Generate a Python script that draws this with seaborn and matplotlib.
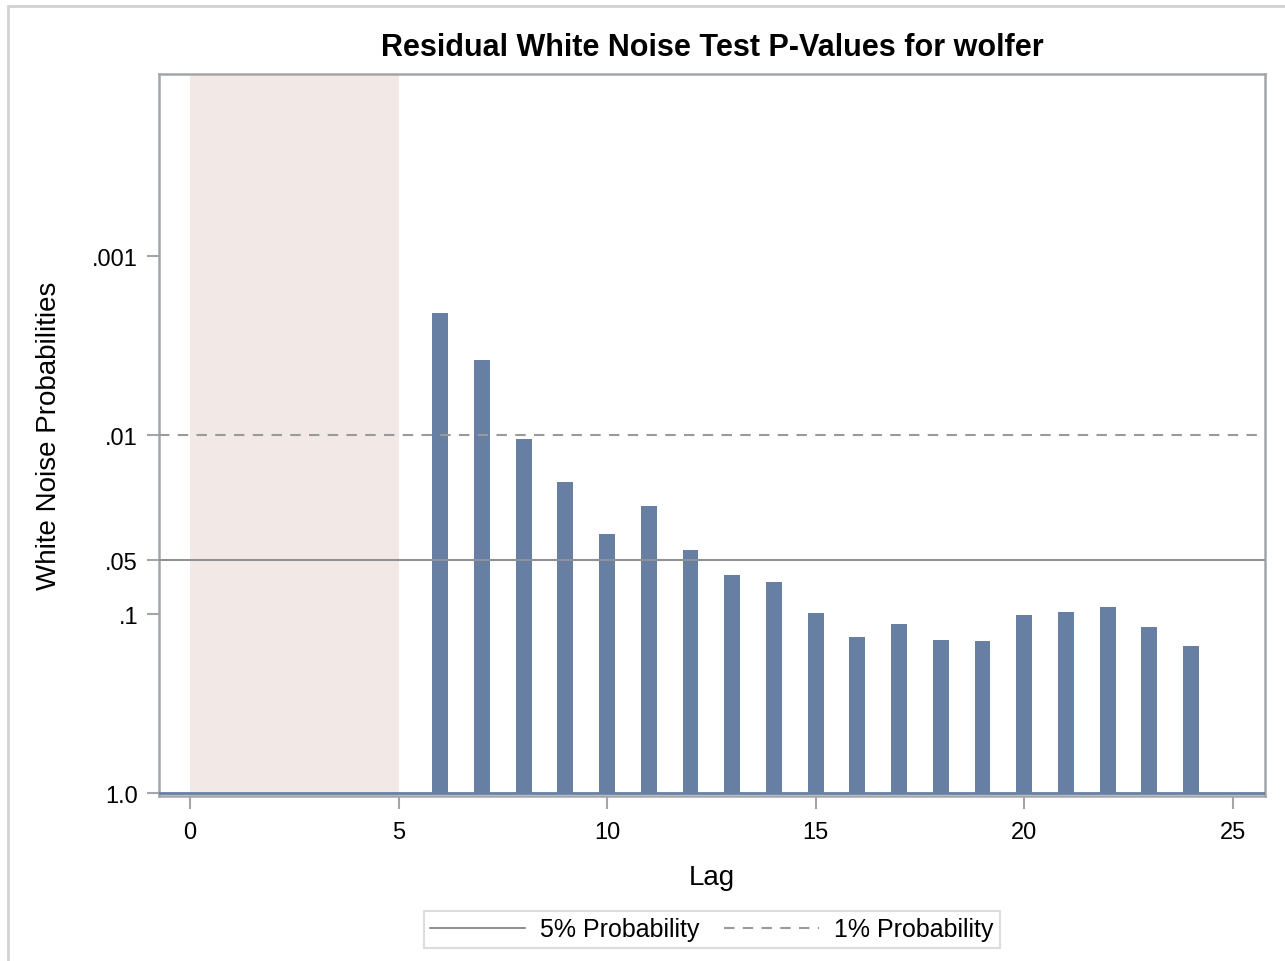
import numpy as np
import pandas as pd
import matplotlib
matplotlib.use('Agg')
import matplotlib.pyplot as plt
import matplotlib.patches as mpatches
from matplotlib.lines import Line2D
import seaborn as sns

# p-values (lags 6..24)
lags = [6, 7, 8, 9, 10, 11, 12, 13, 14, 15, 16, 17, 18, 19, 20, 21, 22, 23, 24]
pvalues = [0.00208, 0.00381, 0.0105, 0.0183, 0.0357, 0.0249, 0.0438, 0.0605,
           0.0662, 0.0987, 0.134, 0.114, 0.140, 0.141, 0.101, 0.0976, 0.0914,
           0.118, 0.151]
ytick_vals = [1.0, 0.1, 0.05, 0.01, 0.001]
ytick_labels = ['1.0', '.1', '.05', '.01', '.001']
xtick_vals = [0, 5, 10, 15, 20, 25]

df = pd.DataFrame({'Lag': lags, 'p': pvalues})
df['neglog'] = -np.log10(df['p'])

sns.set_style('white')
plt.rcParams['font.family'] = ['Liberation Sans', 'DejaVu Sans']
plt.rcParams['text.color'] = 'black'
plt.rcParams['axes.labelcolor'] = 'black'
plt.rcParams['xtick.color'] = 'black'
plt.rcParams['ytick.color'] = 'black'

bar_col = '#667fa2'
frame_col = '#a2a6aa'

fig = plt.figure(figsize=(12.85, 9.62), dpi=100)
ax = fig.add_axes([0.1237, 0.1715, 0.8607, 0.7505])

# shaded region for lags not tested
ax.axvspan(0, 5, color='#f2e8e6', lw=0, zorder=0)

sns.barplot(data=df, x='Lag', y='neglog', native_scale=True, width=0.38,
            color=bar_col, saturation=1, linewidth=0, ax=ax, zorder=2)

ax.axhline(-np.log10(0.05), color='#8e9296', lw=1.5, zorder=3)
ax.axhline(-np.log10(0.01), color='#9a9a9a', lw=1.5, ls=(0, (5, 4)), zorder=3)
ax.axhline(0, color=bar_col, lw=2, zorder=3)

ax.set_xlim(-0.743, 25.77)
ax.set_ylim(-0.0168, 4.017)
ax.set_xticks(xtick_vals)
ax.set_xticklabels([str(v) for v in xtick_vals])
ax.set_yticks(-np.log10(ytick_vals))
ax.set_yticklabels(ytick_labels)
ax.tick_params(axis='both', labelsize=17, length=9, width=1.5, color=frame_col,
               labelcolor='black', direction='out', left=True, bottom=True)
ax.tick_params(axis='x', pad=9)
ax.tick_params(axis='y', pad=6)
for s in ax.spines.values():
    s.set_color(frame_col)
    s.set_linewidth(1.8)

ax.set_xlabel('Lag', fontsize=20, labelpad=15)
ax.set_ylabel('White Noise Probabilities', fontsize=20, labelpad=22)
ax.set_title('Residual White Noise Test P-Values for wolfer', fontsize=22,
             fontweight='bold', pad=14)

handles = [Line2D([0], [0], color='#8e9296', lw=1.5),
           Line2D([0], [0], color='#9a9a9a', lw=1.5, ls=(0, (5, 4)))]
leg = fig.legend(handles, ['5% Probability', '1% Probability'], loc='center',
                 bbox_to_anchor=(0.554, 0.033), ncol=2, fontsize=18,
                 frameon=True, fancybox=False, handlelength=3.8,
                 columnspacing=1.0, handletextpad=0.6, borderpad=0.25)
leg.get_frame().set_edgecolor('#d4d4d4')
leg.get_frame().set_linewidth(1.5)

# outer border of the graph area
fig.patches.append(mpatches.Rectangle((8 / 1285, -0.02), 1.1, 1 - 7 / 962 + 0.02,
                                      transform=fig.transFigure, fill=False,
                                      edgecolor='#d2d2d2', lw=2))

fig.savefig('out.png', dpi=100)
